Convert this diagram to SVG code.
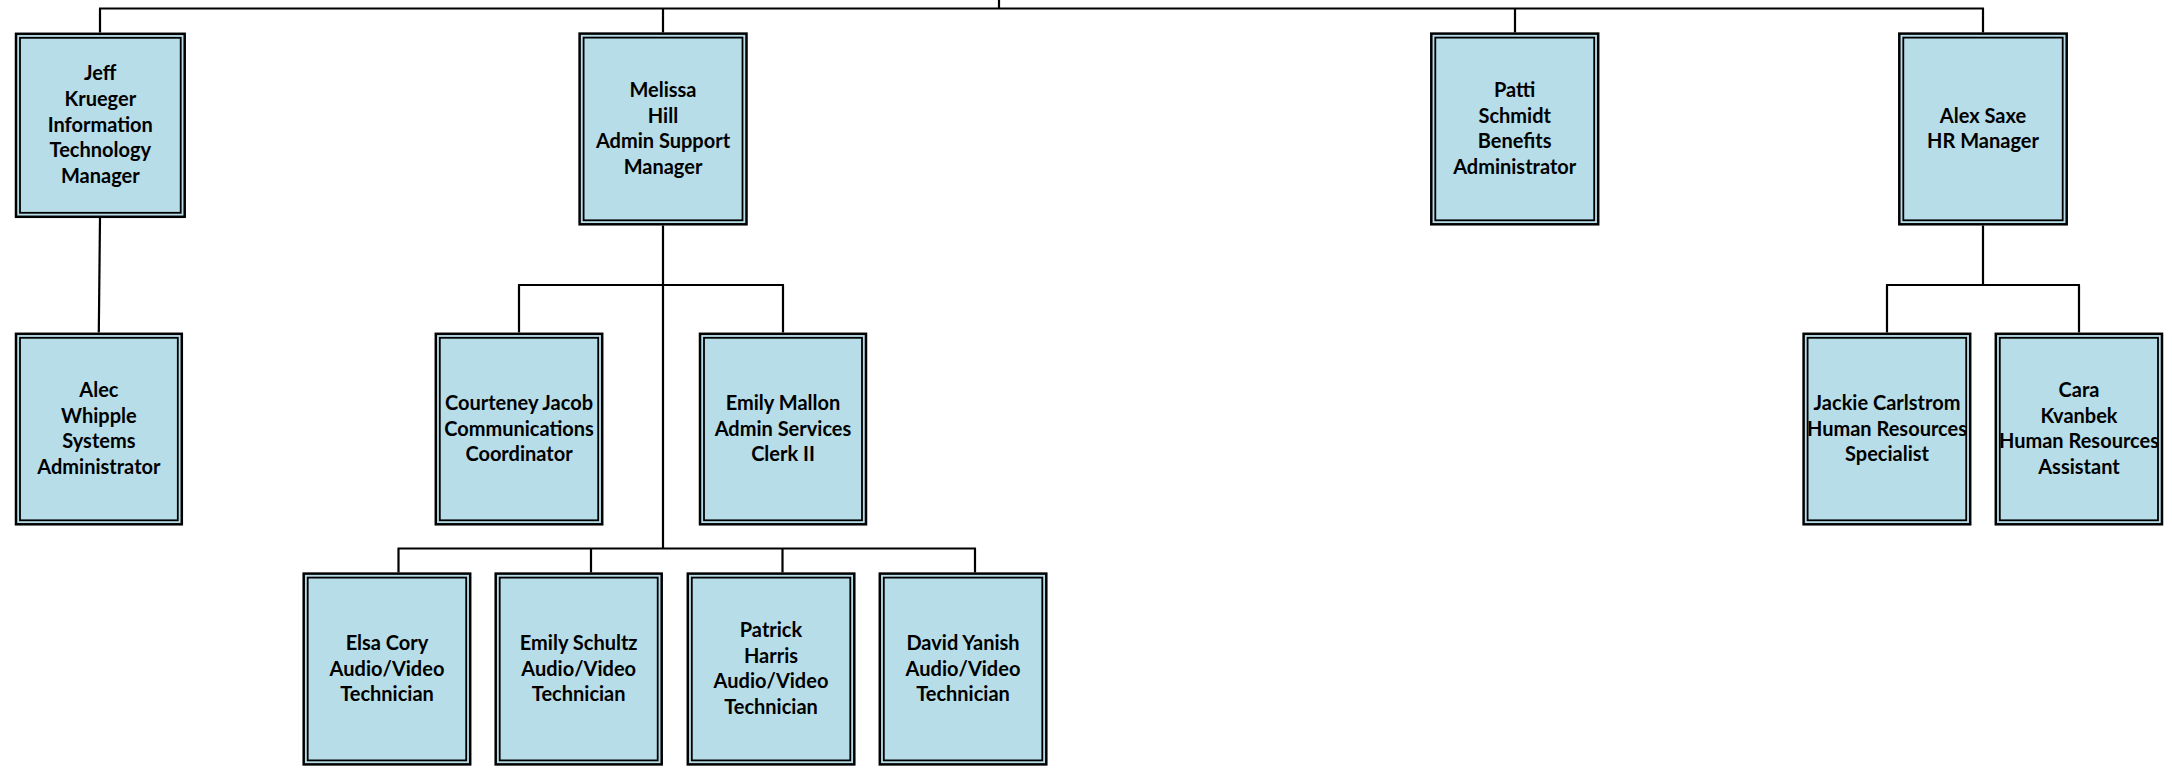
<svg xmlns="http://www.w3.org/2000/svg" width="2172" height="771" viewBox="0 0 2172 771">
<style>
.o{fill:#B7DDE8;stroke:#000;stroke-width:2.5}
.i{fill:none;stroke:#000;stroke-width:1.8}
.t{font-family:Lato,"Liberation Sans",sans-serif;font-weight:700;font-size:20px;fill:#000;text-anchor:middle}
.c{fill:none;stroke:#000;stroke-width:2.2}
</style>
<rect width="2172" height="771" fill="#fff"/>
<g id="connectors">
<path class="c" d="M999,0V8.5M99,8.5H1984M100,8.5V32.5M663,8.5V32.5M1515,8.5V32.5M1983,8.5V32.5"/>
<path class="c" d="M100,218L98.8,332.5"/>
<path class="c" d="M663,225.5V548.5M518,285H784M519,285V332.5M783,285V332.5M397.5,548.5H976M398.5,548.5V572.5M591,548.5V572.5M782.5,548.5V572.5M975,548.5V572.5"/>
<path class="c" d="M1983,225.5V285M1886,285H2080M1887,285V332.5M2079,285V332.5"/>
</g>
<g id="jeff"><rect class="o" x="16" y="33.8" width="168.7" height="183"/><rect class="i" x="20" y="37.8" width="160.7" height="175"/>
<text class="t"><tspan x="100.3" y="80">Jeff</tspan><tspan x="100.3" y="105.8">Krueger</tspan><tspan x="100.3" y="131.5">Information</tspan><tspan x="100.3" y="157.2">Technology</tspan><tspan x="100.3" y="183">Manager</tspan></text></g>
<g id="melissa"><rect class="o" x="579.6" y="33.6" width="166.9" height="190.7"/><rect class="i" x="583.6" y="37.6" width="158.9" height="182.7"/>
<text class="t"><tspan x="663" y="97">Melissa</tspan><tspan x="663" y="122.5">Hill</tspan><tspan x="663" y="148">Admin Support</tspan><tspan x="663" y="173.5">Manager</tspan></text></g>
<g id="patti"><rect class="o" x="1431.3" y="33.6" width="166.9" height="190.7"/><rect class="i" x="1435.3" y="37.6" width="158.9" height="182.7"/>
<text class="t"><tspan x="1514.7" y="97">Patti</tspan><tspan x="1514.7" y="122.5">Schmidt</tspan><tspan x="1514.7" y="148">Benefits</tspan><tspan x="1514.7" y="173.5">Administrator</tspan></text></g>
<g id="alex"><rect class="o" x="1899.3" y="33.6" width="167.4" height="190.7"/><rect class="i" x="1903.3" y="37.6" width="159.4" height="182.7"/>
<text class="t"><tspan x="1983" y="122.5">Alex Saxe</tspan><tspan x="1983" y="148">HR Manager</tspan></text></g>
<g id="alec"><rect class="o" x="16" y="333.8" width="165.8" height="190.5"/><rect class="i" x="20" y="337.8" width="157.8" height="182.5"/>
<text class="t"><tspan x="98.9" y="397">Alec</tspan><tspan x="98.9" y="422.5">Whipple</tspan><tspan x="98.9" y="448">Systems</tspan><tspan x="98.9" y="473.5">Administrator</tspan></text></g>
<g id="courteney"><rect class="o" x="435.8" y="333.8" width="166.4" height="190.5"/><rect class="i" x="439.8" y="337.8" width="158.4" height="182.5"/>
<text class="t"><tspan x="519" y="410">Courteney Jacob</tspan><tspan x="519" y="435.5">Communications</tspan><tspan x="519" y="461">Coordinator</tspan></text></g>
<g id="emily-mallon"><rect class="o" x="700" y="333.8" width="166" height="190.5"/><rect class="i" x="704" y="337.8" width="158" height="182.5"/>
<text class="t"><tspan x="783" y="410">Emily Mallon</tspan><tspan x="783" y="435.5">Admin Services</tspan><tspan x="783" y="461">Clerk II</tspan></text></g>
<g id="jackie"><rect class="o" x="1803.6" y="333.8" width="166.6" height="190.5"/><rect class="i" x="1807.6" y="337.8" width="158.6" height="182.5"/>
<text class="t"><tspan x="1887" y="410">Jackie Carlstrom</tspan><tspan x="1887" y="435.5">Human Resources</tspan><tspan x="1887" y="461">Specialist</tspan></text></g>
<g id="cara"><rect class="o" x="1995.8" y="333.8" width="166.2" height="190.5"/><rect class="i" x="1999.8" y="337.8" width="158.2" height="182.5"/>
<text class="t"><tspan x="2079" y="397">Cara</tspan><tspan x="2079" y="422.5">Kvanbek</tspan><tspan x="2079" y="448">Human Resources</tspan><tspan x="2079" y="473.5">Assistant</tspan></text></g>
<g id="elsa"><rect class="o" x="303.7" y="573.6" width="166.5" height="190.8"/><rect class="i" x="307.7" y="577.6" width="158.5" height="182.8"/>
<text class="t"><tspan x="387" y="650">Elsa Cory</tspan><tspan x="387" y="675.5">Audio/Video</tspan><tspan x="387" y="701">Technician</tspan></text></g>
<g id="emily-schultz"><rect class="o" x="495.7" y="573.6" width="166" height="190.8"/><rect class="i" x="499.7" y="577.6" width="158" height="182.8"/>
<text class="t"><tspan x="578.7" y="650">Emily Schultz</tspan><tspan x="578.7" y="675.5">Audio/Video</tspan><tspan x="578.7" y="701">Technician</tspan></text></g>
<g id="patrick"><rect class="o" x="687.8" y="573.6" width="166.5" height="190.8"/><rect class="i" x="691.8" y="577.6" width="158.5" height="182.8"/>
<text class="t"><tspan x="771" y="637">Patrick</tspan><tspan x="771" y="662.5">Harris</tspan><tspan x="771" y="688">Audio/Video</tspan><tspan x="771" y="713.5">Technician</tspan></text></g>
<g id="david"><rect class="o" x="879.8" y="573.6" width="166.5" height="190.8"/><rect class="i" x="883.8" y="577.6" width="158.5" height="182.8"/>
<text class="t"><tspan x="963" y="650">David Yanish</tspan><tspan x="963" y="675.5">Audio/Video</tspan><tspan x="963" y="701">Technician</tspan></text></g>
</svg>
